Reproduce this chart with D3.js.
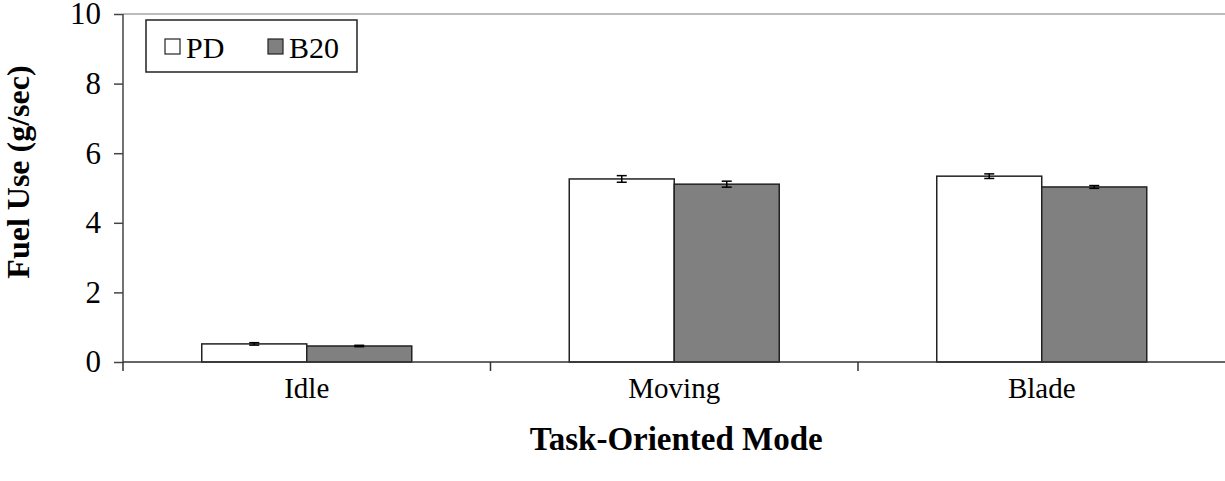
<!DOCTYPE html>
<html>
<head>
<meta charset="utf-8">
<script src="https://cdn.jsdelivr.net/npm/d3@7"></script>
<style>
  html, body { margin: 0; padding: 0; background: #fff; }
  svg { display: block; }
  text { font-family: "Liberation Serif", "Times New Roman", serif; fill: #000; }
</style>
</head>
<body>
<svg id="chart" width="1225" height="481"></svg>
<script>
// Fuel use rate by task-oriented mode, petroleum diesel vs. B20 biodiesel
const categories = ["Idle", "Moving", "Blade"];
const seriesNames = ["PD", "B20"];
const pdValues = [0.52, 5.26, 5.34];
const b20Values = [0.46, 5.11, 5.03];
const pdErrors = [0.035, 0.095, 0.066];
const b20Errors = [0.02, 0.086, 0.04];
const yTicks = [0, 2, 4, 6, 8, 10];
const seriesColors = ["#ffffff", "#808080"];

const svg = d3.select("#chart");
const margin = { left: 123, right: 0, top: 14, bottom: 119 };
const W = 1225.5, H = 481;

const x = d3.scaleBand().domain(categories).range([margin.left, W]).paddingInner(0).paddingOuter(0);
const xs = d3.scaleBand().domain(seriesNames).range([0, x.bandwidth()]).paddingInner(0).paddingOuter(0.75);
const y = d3.scaleLinear().domain([0, 10]).range([H - margin.bottom, margin.top]);

const rows = seriesNames.map((s, i) => ({
  name: s,
  color: seriesColors[i],
  values: categories.map((c, j) => ({
    cat: c,
    v: i === 0 ? pdValues[j] : b20Values[j],
    e: i === 0 ? pdErrors[j] : b20Errors[j]
  }))
}));

// top frame line
svg.append("line")
  .attr("x1", margin.left).attr("x2", 1225)
  .attr("y1", y(10)).attr("y2", y(10))
  .attr("stroke", "#a6a6a6").attr("stroke-width", 1.5);

// bars
const g = svg.append("g");
rows.forEach(r => {
  g.selectAll(null).data(r.values).enter().append("rect")
    .attr("x", d => x(d.cat) + xs(r.name))
    .attr("y", d => y(d.v))
    .attr("width", xs.bandwidth())
    .attr("height", d => y(0) - y(d.v))
    .attr("fill", r.color)
    .attr("stroke", "#222").attr("stroke-width", 1.5);
});

// error bars
rows.forEach(r => {
  const eb = g.selectAll(null).data(r.values).enter().append("g")
    .attr("transform", d => `translate(${x(d.cat) + xs(r.name) + xs.bandwidth() / 2},0)`);
  eb.append("line").attr("x1", 0).attr("x2", 0)
    .attr("y1", d => y(d.v + d.e)).attr("y2", d => y(d.v - d.e))
    .attr("stroke", "#000").attr("stroke-width", 1.5);
  eb.append("line").attr("x1", -5).attr("x2", 5)
    .attr("y1", d => y(d.v + d.e)).attr("y2", d => y(d.v + d.e))
    .attr("stroke", "#000").attr("stroke-width", 1.5);
  eb.append("line").attr("x1", -5).attr("x2", 5)
    .attr("y1", d => y(d.v - d.e)).attr("y2", d => y(d.v - d.e))
    .attr("stroke", "#000").attr("stroke-width", 1.5);
});

// y axis
const yAxis = svg.append("g")
  .attr("transform", `translate(${margin.left},0)`)
  .call(d3.axisLeft(y).tickValues(yTicks).tickSize(9).tickPadding(13).tickFormat(d3.format("d")));
yAxis.select(".domain").attr("d", `M0,${y(10)}V${y(0)}`).attr("stroke", "#444").attr("stroke-width", 1.5);
yAxis.selectAll(".tick line").attr("stroke", "#444").attr("stroke-width", 1.5);
yAxis.selectAll(".tick text")
  .attr("font-family", "Liberation Serif, serif").attr("font-size", 31).attr("fill", "#000");

// x axis with ticks at category boundaries
const xAxisG = svg.append("g").attr("transform", `translate(0,${y(0)})`);
xAxisG.append("line").attr("x1", margin.left).attr("x2", 1225)
  .attr("y1", 0).attr("y2", 0).attr("stroke", "#333").attr("stroke-width", 1.5);
const boundaries = categories.map(c => x(c));
xAxisG.selectAll(".bt").data(boundaries).enter().append("line")
  .attr("x1", d => d).attr("x2", d => d).attr("y1", 0).attr("y2", 9)
  .attr("stroke", "#333").attr("stroke-width", 1.5);
xAxisG.selectAll(".cl").data(categories).enter().append("text")
  .attr("x", d => x(d) + x.bandwidth() / 2)
  .attr("y", 36)
  .attr("text-anchor", "middle")
  .attr("font-size", 29)
  .text(d => d);

// axis titles
svg.append("text")
  .attr("x", (margin.left + W) / 2 + 2)
  .attr("y", 450)
  .attr("text-anchor", "middle")
  .attr("font-size", 33).attr("font-weight", "bold")
  .text("Task-Oriented Mode");
svg.append("text")
  .attr("transform", `translate(29,${172}) rotate(-90)`)
  .attr("text-anchor", "middle")
  .attr("font-size", 32).attr("font-weight", "bold")
  .text("Fuel Use (g/sec)");

// legend
const lg = svg.append("g").attr("transform", "translate(146,20)");
lg.append("rect").attr("width", 211).attr("height", 52)
  .attr("fill", "#fff").attr("stroke", "#222").attr("stroke-width", 1.5);
const legendX = [19, 122];
seriesNames.forEach((s, i) => {
  const it = lg.append("g").attr("transform", `translate(${legendX[i]},0)`);
  it.append("rect").attr("x", 0).attr("y", 19).attr("width", 15).attr("height", 15)
    .attr("fill", seriesColors[i]).attr("stroke", "#222").attr("stroke-width", 1.2);
  it.append("text").attr("x", 21).attr("y", 38).attr("font-size", 30).text(s);
});
</script>
</body>
</html>
